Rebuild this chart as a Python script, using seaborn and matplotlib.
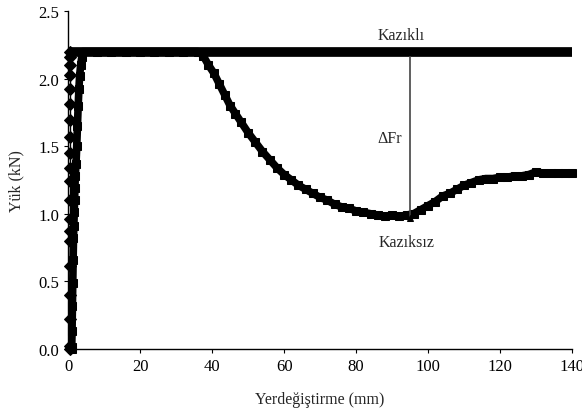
import numpy as np
import pandas as pd
import matplotlib
matplotlib.use('Agg')
import matplotlib.pyplot as plt
import seaborn as sns

# Kazikli: dusey yukselis (x ~ 0) ve duz kisim (2.2 kN)
kazikli_rise_x = [0.4] * 20
kazikli_rise_y = [0.0, 0.02, 0.22, 0.40, 0.61, 0.80, 0.87, 0.96, 1.10, 1.24,
                  1.34, 1.45, 1.57, 1.69, 1.81, 1.92, 2.03, 2.10, 2.16, 2.20]
kazikli_flat_x = [0.3, 5, 10, 20, 30, 40, 50, 60, 70, 80, 90, 100, 110, 120, 130, 140]
kazikli_flat_y = [2.2] * len(kazikli_flat_x)

# Kaziksiz
kaziksiz_x = [1.0, 1.0, 1.1, 1.2, 1.3, 1.4, 1.5, 1.6, 1.7, 1.8, 1.9, 2.0, 2.2, 2.4,
              2.6, 2.8, 3.0, 3.2, 3.5, 3.8, 4.0,
              8, 12, 16, 20, 24, 28, 32, 36,
              37.5, 39, 40.5, 42, 43.5, 45, 46.5, 48, 50, 52, 54, 56, 58, 60,
              62, 64, 66, 68, 70, 72, 74, 76, 78, 80, 82, 84, 86, 88, 90, 92,
              94, 96, 98, 100, 102, 104, 106, 108, 110, 112, 114, 116, 118, 120,
              122, 124, 126, 128, 130, 132, 134, 136, 138, 140]
kaziksiz_y = [0.0, 0.01, 0.13, 0.32, 0.49, 0.66, 0.82, 0.91, 1.01, 1.10, 1.19, 1.28,
              1.37, 1.50, 1.65, 1.80, 1.92, 2.02, 2.10, 2.16, 2.20,
              2.2, 2.2, 2.2, 2.2, 2.2, 2.2, 2.2, 2.2,
              2.17, 2.10, 2.04, 1.96, 1.88, 1.80, 1.74, 1.68, 1.60, 1.53, 1.46, 1.40,
              1.34, 1.29, 1.25, 1.21, 1.18, 1.15, 1.12, 1.10, 1.07, 1.05, 1.04, 1.02,
              1.01, 1.00, 0.99, 0.98, 0.99, 0.98, 0.99, 1.00, 1.03, 1.06, 1.09, 1.13,
              1.15, 1.18, 1.21, 1.23, 1.25, 1.26, 1.26, 1.27, 1.27, 1.28, 1.28, 1.29,
              1.31, 1.30, 1.30, 1.30, 1.30, 1.30]

# Delta Fr cizgisi
dfr_x = [95, 95]
dfr_y = [0.97, 2.2]

sns.set_style("ticks")
plt.rcParams['font.family'] = ['Liberation Serif', 'DejaVu Serif']

fig = plt.figure(figsize=(5.82, 4.14), dpi=100)
ax = fig.add_axes([0.117, 0.155, 0.866, 0.816])

df_ks = pd.DataFrame({'x': kaziksiz_x, 'y': kaziksiz_y})
sns.lineplot(data=df_ks, x='x', y='y', sort=False, estimator=None, ax=ax,
             color='black', lw=5.5, marker='s', markersize=5.5, mec='black',
             clip_on=False)

df_kr = pd.DataFrame({'x': kazikli_rise_x, 'y': kazikli_rise_y})
sns.lineplot(data=df_kr, x='x', y='y', sort=False, estimator=None, ax=ax,
             color='black', lw=1, marker='D', markersize=6, mec='black',
             clip_on=False)

df_kf = pd.DataFrame({'x': kazikli_flat_x, 'y': kazikli_flat_y})
sns.lineplot(data=df_kf, x='x', y='y', sort=False, estimator=None, ax=ax,
             color='black', lw=7, solid_capstyle='butt', clip_on=False)

df_d = pd.DataFrame({'x': dfr_x, 'y': dfr_y})
sns.lineplot(data=df_d, x='x', y='y', sort=False, estimator=None, ax=ax,
             color='#444444', lw=1.2, marker='^', markersize=5, mec='black', mfc='black')

ax.text(92.6, 2.32, 'Kazıklı', ha='center', va='center', fontsize=11.5)
ax.text(89.4, 1.56, 'ΔFr', ha='center', va='center', fontsize=11.5)
ax.text(94, 0.79, 'Kazıksız', ha='center', va='center', fontsize=11.5)

ax.set_xlim(0, 140)
ax.set_ylim(0, 2.5)
ax.set_xticks(np.arange(0, 141, 20))
ax.set_yticks(np.arange(0, 2.51, 0.5))
ax.set_yticklabels([f'{v:.1f}' for v in np.arange(0, 2.51, 0.5)])
ax.tick_params(direction='out', length=3, width=0.8, labelsize=12, colors='black')
for s in ['left', 'bottom']:
    ax.spines[s].set_color('black')
    ax.spines[s].set_linewidth(1)
sns.despine(ax=ax)
ax.set_xlabel('Yerdeğiştirme (mm)', fontsize=11.5, labelpad=12)
ax.set_ylabel('Yük (kN)', fontsize=11.5, labelpad=10)

fig.savefig('out.png', dpi=100)
